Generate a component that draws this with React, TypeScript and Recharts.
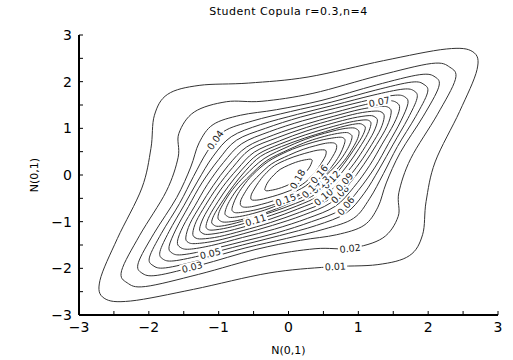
import { ComposedChart, Line, Scatter, XAxis, YAxis } from 'recharts';

type Pt = [number, number];

// contour levels, outermost first
const levels = [
  '0.01', '0.02', '0.03', '0.04', '0.05', '0.06', '0.07', '0.08', '0.09',
  '0.10', '0.11', '0.12', '0.13', '0.14', '0.15', '0.16', '0.17', '0.18',
];

// one quarter of every contour: from the tip on the
// diagonal y = x, over the top side, to the corner on the line y = -x
const c01: Pt[] = [[2.64, 2.64], [2.26, 2.7], [1.36, 2.45], [0.28, 2.1], [-0.57, 1.97], [-1.28, 1.92], [-1.73, 1.73]];
const c02: Pt[] = [[2.31, 2.31], [2.05, 2.39], [1.29, 2.13], [0.35, 1.75], [-0.38, 1.58], [-0.89, 1.57], [-1.35, 1.35]];
const c03: Pt[] = [[2.1, 2.1], [1.88, 2.15], [1.26, 1.93], [0.48, 1.6], [-0.17, 1.4], [-0.69, 1.28], [-1.08, 1.08]];
const c04: Pt[] = [[1.94, 1.94], [1.76, 1.99], [1.25, 1.82], [0.61, 1.56], [0.03, 1.36], [-0.51, 1.16], [-0.93, 0.93]];
const c05: Pt[] = [[1.8, 1.8], [1.64, 1.84], [1.21, 1.71], [0.66, 1.5], [0.13, 1.3], [-0.4, 1.08], [-0.82, 0.82]];
const c06: Pt[] = [[1.67, 1.67], [1.53, 1.71], [1.16, 1.61], [0.67, 1.43], [0.17, 1.24], [-0.33, 1.0], [-0.745, 0.745]];
const c07: Pt[] = [[1.55, 1.55], [1.42, 1.59], [1.1, 1.51], [0.66, 1.34], [0.2, 1.16], [-0.27, 0.93], [-0.67, 0.67]];
const c08: Pt[] = [[1.44, 1.44], [1.33, 1.47], [1.04, 1.41], [0.65, 1.26], [0.23, 1.08], [-0.21, 0.86], [-0.6, 0.6]];
const c09: Pt[] = [[1.34, 1.34], [1.24, 1.37], [0.99, 1.32], [0.65, 1.19], [0.26, 1.02], [-0.16, 0.8], [-0.55, 0.55]];
const c10: Pt[] = [[1.24, 1.24], [1.155, 1.273], [0.92, 1.22], [0.61, 1.1], [0.25, 0.94], [-0.13, 0.73], [-0.49, 0.49]];
const c11: Pt[] = [[1.16, 1.16], [1.08, 1.18], [0.87, 1.13], [0.57, 1.01], [0.24, 0.86], [-0.11, 0.67], [-0.44, 0.44]];
const c12: Pt[] = [[1.07, 1.07], [1.0, 1.1], [0.81, 1.05], [0.53, 0.93], [0.23, 0.79], [-0.1, 0.61], [-0.4, 0.4]];
const c13: Pt[] = [[0.98, 0.98], [0.92, 1.01], [0.78, 0.99], [0.58, 0.92], [0.31, 0.8], [0.01, 0.62], [-0.35, 0.35]];
const c14: Pt[] = [[0.88, 0.88], [0.83, 0.91], [0.7, 0.89], [0.52, 0.83], [0.28, 0.72], [0.01, 0.55], [-0.31, 0.31]];
const c15: Pt[] = [[0.79, 0.79], [0.74, 0.81], [0.62, 0.79], [0.45, 0.74], [0.24, 0.65], [-0.01, 0.51], [-0.29, 0.29]];
const c16: Pt[] = [[0.67, 0.67], [0.63, 0.69], [0.53, 0.68], [0.39, 0.63], [0.21, 0.55], [0.0, 0.42], [-0.24, 0.24]];
const c17: Pt[] = [[0.53, 0.53], [0.49, 0.54], [0.41, 0.53], [0.3, 0.49], [0.16, 0.43], [-0.01, 0.34], [-0.2, 0.2]];
const c18: Pt[] = [[0.33, 0.33], [0.31, 0.34], [0.26, 0.33], [0.19, 0.31], [0.1, 0.27], [0.0, 0.21], [-0.12, 0.12]];

const quarters = [c01, c02, c03, c04, c05, c06, c07, c08, c09, c10, c11, c12, c13, c14, c15, c16, c17, c18];

// contour labels as placed in the plot
const labelText = ['0.01', '0.02', '0.03', '0.05', '0.04', '0.07', '0.11', '0.15', '0.06', '0.08', '0.10', '0.09', '0.12', '0.13', '0.14', '0.16', '0.18'];
const labelAt: Pt[] = [
  [0.67, -1.96], [0.88, -1.57], [-1.38, -1.97], [-1.12, -1.68], [-1.05, 0.75], [1.3, 1.57],
  [-0.47, -0.965], [-0.04, -0.53], [0.82, -0.66], [0.735, -0.41], [0.5, -0.47], [0.8, -0.15],
  [0.61, -0.1], [0.455, -0.21], [0.32, -0.3], [0.44, 0.02], [0.13, -0.09],
];
const labelAngle = [-3, -7, -14, -13, -55, -11, -17, -20, -50, -47, -40, -50, -47, -42, -45, -50, -60];

const xTicks = [-3, -2.5, -2, -1.5, -1, -0.5, 0, 0.5, 1, 1.5, 2, 2.5, 3];
const yTicks = [-3, -2.5, -2, -1.5, -1, -0.5, 0, 0.5, 1, 1.5, 2, 2.5, 3];

// the density is symmetric under (x,y)->(y,x) and (x,y)->(-x,-y),
// so the read quarter is mirrored round to a closed ring
const ring = (q: Pt[]) => {
  const n = q.length;
  const out: Pt[] = [...q];
  for (let i = n - 2; i >= 0; i--) out.push([-q[i][1], -q[i][0]]);
  for (let i = 1; i < n; i++) out.push([-q[i][0], -q[i][1]]);
  for (let i = n - 2; i >= 1; i--) out.push([q[i][1], q[i][0]]);
  return out.map(([x, y]) => ({ x, y }));
};

const contours = quarters.map(ring);

const labelData = labelText.map((text, i) => ({
  x: labelAt[i][0],
  y: labelAt[i][1],
  text,
  angle: labelAngle[i],
}));

// closed Catmull-Rom curve through the points (d3 curve factory interface)
function closedSpline(context: any) {
  let pts: number[][] = [];
  return {
    areaStart() {},
    areaEnd() {},
    lineStart() {
      pts = [];
    },
    point(x: number, y: number) {
      pts.push([+x, +y]);
    },
    lineEnd() {
      const n = pts.length;
      if (n < 3) return;
      context.moveTo(pts[0][0], pts[0][1]);
      for (let i = 0; i < n; i++) {
        const p0 = pts[(i - 1 + n) % n];
        const p1 = pts[i];
        const p2 = pts[(i + 1) % n];
        const p3 = pts[(i + 2) % n];
        context.bezierCurveTo(
          p1[0] + (p2[0] - p0[0]) / 6,
          p1[1] + (p2[1] - p0[1]) / 6,
          p2[0] - (p3[0] - p1[0]) / 6,
          p2[1] - (p3[1] - p1[1]) / 6,
          p2[0],
          p2[1]
        );
      }
      context.closePath();
    },
  };
}

const fmt = (v: number) => (Number.isInteger(v) ? (v < 0 ? '\u2212' + -v : String(v)) : '');

const FONT = '"DejaVu Sans", sans-serif';

function ContourLabel(props: any) {
  const { cx, cy, payload } = props;
  if (cx == null || cy == null) return null;
  return (
    <g transform={`translate(${cx},${cy}) rotate(${payload.angle})`}>
      <rect x={-12} y={-5} width={24} height={10} fill="#fff" />
      <text
        x={0}
        y={0}
        textAnchor="middle"
        dominantBaseline="central"
        fontSize={9.5}
        fill="#222"
        fontFamily={FONT}
      >
        {payload.text}
      </text>
    </g>
  );
}

export default function App() {
  return (
    <div
      style={{
        position: 'absolute',
        left: 0,
        top: 0,
        width: 513,
        height: 360,
        background: '#fff',
        fontFamily: FONT,
      }}
    >
      <div
        style={{
          position: 'absolute',
          left: 79,
          top: 5,
          width: 419,
          textAlign: 'center',
          fontSize: 11,
          lineHeight: '14px',
          letterSpacing: 0.5,
          color: '#000',
        }}
      >
        Student Copula r=0.3,n=4
      </div>
      <ComposedChart width={513} height={360} margin={{ top: 35, right: 15, bottom: 0, left: 39 }}>
        <XAxis
          type="number"
          dataKey="x"
          domain={[-3, 3]}
          ticks={xTicks}
          interval={0}
          tickFormatter={fmt}
          height={45}
          tickSize={-4}
          tickMargin={11}
          allowDataOverflow
          axisLine={{ stroke: '#000', strokeWidth: 2 }}
          tickLine={{ stroke: '#000', strokeWidth: 1 }}
          tick={{ fill: '#000', fontSize: 14, fontFamily: FONT }}
        />
        <YAxis
          type="number"
          domain={[-3, 3]}
          ticks={yTicks}
          interval={0}
          tickFormatter={fmt}
          width={40}
          tickSize={-4}
          tickMargin={11}
          allowDataOverflow
          axisLine={{ stroke: '#000', strokeWidth: 2 }}
          tickLine={{ stroke: '#000', strokeWidth: 1 }}
          tick={{ fill: '#000', fontSize: 14, fontFamily: FONT }}
        />
        {contours.map((data, i) => (
          <Line
            key={levels[i]}
            name={levels[i]}
            data={data}
            dataKey="y"
            type={closedSpline as any}
            stroke="#333"
            strokeWidth={1}
            dot={false}
            activeDot={false}
            isAnimationActive={false}
          />
        ))}
        <Scatter data={labelData} dataKey="y" shape={ContourLabel} isAnimationActive={false} />
      </ComposedChart>
      <div
        style={{
          position: 'absolute',
          left: 79,
          top: 344,
          width: 419,
          textAlign: 'center',
          fontSize: 11,
          lineHeight: '14px',
          color: '#000',
        }}
      >
        N(0,1)
      </div>
      <div
        style={{
          position: 'absolute',
          left: 35,
          top: 175,
          transform: 'translate(-50%, -50%) rotate(-90deg)',
          fontSize: 11,
          lineHeight: '14px',
          whiteSpace: 'nowrap',
          color: '#000',
        }}
      >
        N(0,1)
      </div>
    </div>
  );
}
